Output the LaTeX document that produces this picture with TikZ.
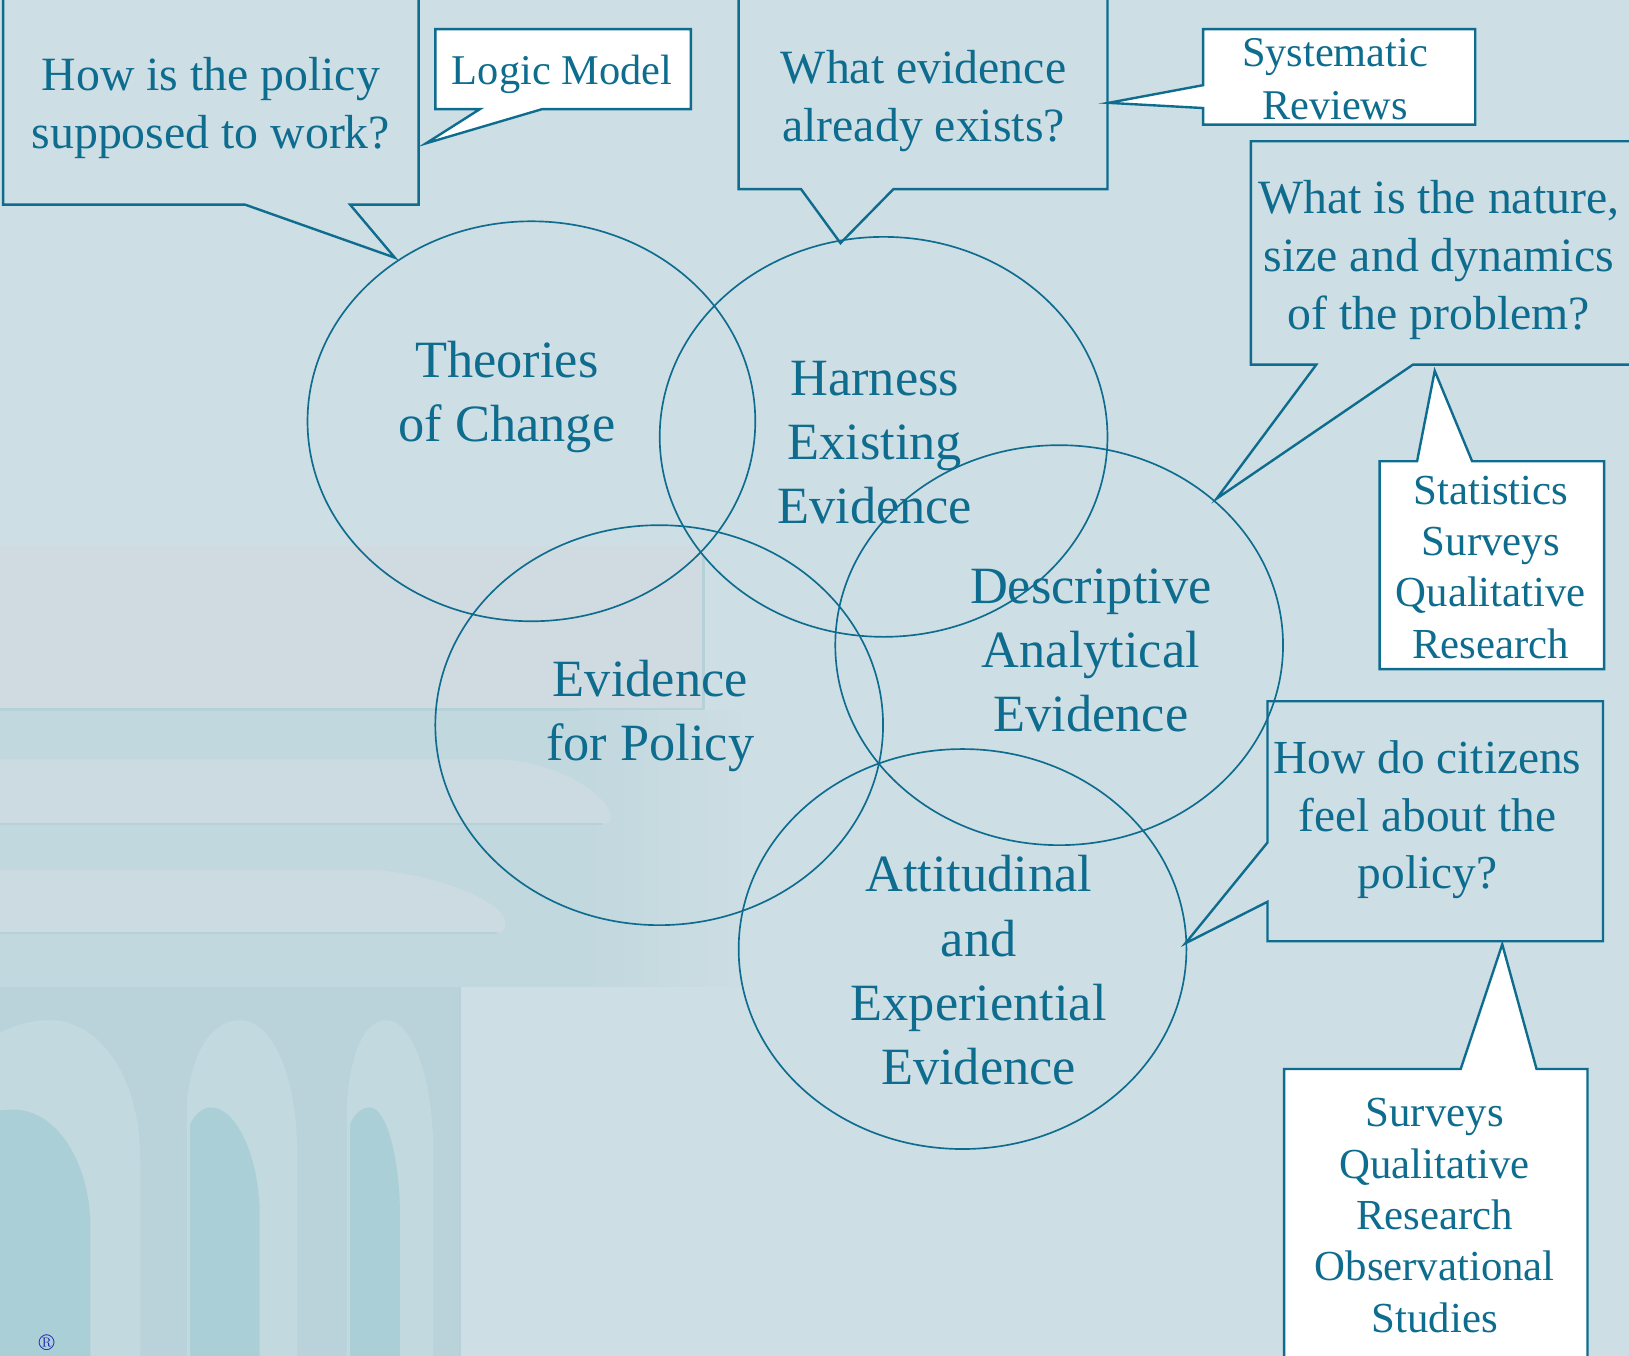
\documentclass[tikz,border=0pt]{standalone}
\usepackage{fontspec}
\newfontfamily\tms{Liberation Serif}
\usetikzlibrary{shapes.geometric}
\definecolor{ink}{RGB}{14,108,142}
\definecolor{bg}{RGB}{205,222,228}
\definecolor{bandgray}{RGB}{208,219,225}
\definecolor{bandblue}{RGB}{193,216,222}
\definecolor{tongue}{RGB}{204,219,225}
\definecolor{colbox}{RGB}{186,211,218}
\definecolor{archc}{RGB}{194,217,223}
\definecolor{flute}{RGB}{171,207,215}
\definecolor{edgec}{RGB}{182,209,216}
\definecolor{regblue}{RGB}{20,20,170}
\begin{document}
\begin{tikzpicture}[x=0.5pt,y=-0.5pt,
  callout/.style={draw=ink, line width=1.15pt, line join=miter},
  wcallout/.style={callout, fill=white},
  oval/.style={draw=ink, line width=0.8pt, ellipse, minimum width=215.5pt, minimum height=192.5pt, inner sep=0pt},
  qtext/.style={text=ink, align=center, inner sep=0pt, font=\tms\fontsize{23}{28}\selectfont},
  ltext/.style={text=ink, align=center, inner sep=0pt, font=\tms\fontsize{20.4}{25.5}\selectfont},
  etext/.style={text=ink, align=center, inner sep=0pt, font=\tms\fontsize{25.2}{31}\selectfont},
  stext/.style={text=ink, align=center, inner sep=0pt, font=\tms\fontsize{20.6}{24.7}\selectfont},
  dtext/.style={text=ink, align=center, inner sep=0pt, font=\tms\fontsize{22.8}{27.5}\selectfont}]
\useasboundingbox (0,0) rectangle (1568,1305);
\clip (0,0) rectangle (1568,1305);
\fill[bg] (0,0) rectangle (1568,1305);
% watermark building
\fill[bandgray] (0,526) rectangle (677,683);
\draw[edgec, line width=1.2pt] (0,683) -- (677,683) -- (677,535);
\fill[bandblue] (0,684) rectangle (560,950);
\shade[left color=bandblue, right color=bg] (559,684) rectangle (720,950);
\fill[tongue] (0,731) -- (486,731) .. controls (545,736) and (586,768) .. (588,785) .. controls (589,792) and (585,793) .. (580,793) -- (0,793) -- cycle;
\draw[edgec, line width=1.2pt] (0,793) -- (580,793);
\fill[tongue] (0,837) -- (353,837) .. controls (420,840) and (482,868) .. (486,885) .. controls (488,895) and (484,898) .. (478,898) -- (0,898) -- cycle;
\draw[edgec, line width=1.2pt] (0,898) -- (478,898);
\fill[colbox] (0,950) rectangle (443,1305);
\draw[edgec, line width=1.2pt] (443,950) -- (443,1305);
\fill[archc] (-38,1305) -- (-38,1060) .. controls (-38,1005) and (10,982) .. (48,982) .. controls (95,982) and (135,1035) .. (135,1117) -- (135,1305) -- cycle;
\fill[archc] (180,1305) -- (180,1060) .. controls (185,1010) and (205,982) .. (231,982) .. controls (262,982) and (286,1035) .. (286,1110) -- (286,1305) -- cycle;
\fill[archc] (334,1305) -- (334,1060) .. controls (338,1010) and (352,982) .. (372,982) .. controls (396,982) and (417,1035) .. (417,1110) -- (417,1305) -- cycle;
\fill[flute] (-62,1305) -- (-62,1100) .. controls (-40,1075) and (-10,1068) .. (13,1068) .. controls (55,1068) and (87,1120) .. (87,1181) -- (87,1305) -- cycle;
\fill[flute] (183,1305) -- (183,1082) .. controls (188,1072) and (195,1066) .. (203,1066) .. controls (228,1066) and (250,1115) .. (250,1170) -- (250,1305) -- cycle;
\fill[flute] (337,1305) -- (337,1082) .. controls (341,1072) and (348,1066) .. (356,1066) .. controls (372,1066) and (385,1115) .. (385,1170) -- (385,1305) -- cycle;
% ellipses
\node[oval] (e1) at (511.5,405.5) {};
\node[oval] (e2) at (850.5,420.5) {};
\node[oval] (e3) at (1019.5,621) {};
\node[oval] (e4) at (634.5,698) {};
\node[oval] (e5) at (926.5,913.5) {};
% callouts
\draw[callout] (3,-10) -- (3,197) -- (236,197) -- (380,248) -- (337,197) -- (403,197) -- (403,-10);
\draw[wcallout] (419,28) -- (665,28) -- (665,105) -- (522,105) -- (410,138) -- (462,105) -- (419,105) -- cycle;
\draw[callout] (711,-10) -- (711,182) -- (771,182) -- (809,234) -- (860,182) -- (1066,182) -- (1066,-10);
\draw[wcallout] (1158,28) -- (1420,28) -- (1420,120) -- (1158,120) -- (1158,104) -- (1067,99) -- (1158,82) -- cycle;
\draw[callout] (1590,136) -- (1204,136) -- (1204,351) -- (1267,351) -- (1171,480) -- (1360,351) -- (1590,351);
\draw[wcallout] (1328,644) -- (1328,444) -- (1364,444) -- (1381,357) -- (1417,444) -- (1544,444) -- (1544,644) -- cycle;
\draw[callout] (1220,675) -- (1543,675) -- (1543,906) -- (1220,906) -- (1220,868) -- (1141,908) -- (1220,811) -- cycle;
\draw[wcallout] (1236,1320) -- (1236,1029) -- (1406,1029) -- (1446,909) -- (1479,1029) -- (1528,1029) -- (1528,1320);
% texts
\node[qtext] (qa) at (203,104) {How is the policy\\supposed to work?};
\node[ltext] (lm) at (541,72) {Logic Model};
\node[qtext] (qb) at (889,97) {What evidence\\already exists?};
\node[ltext] (sr) at (1285,76) {Systematic\\Reviews};
\node[qtext] (qc) at (1385,250) {What is the nature,\\size and dynamics\\of the problem?};
\node[stext] (st) at (1435,546) {Statistics\\Surveys\\Qualitative\\Research};
\node[dtext] (qd) at (1374,789) {How do citizens\\feel about the\\policy?};
\node[stext] (sv) at (1381,1170) {Surveys\\Qualitative\\Research\\Observational\\Studies};
\node[etext] (t1) at (488,382) {Theories\\of Change};
\node[etext] (t2) at (842,426) {Harness\\Existing\\Evidence};
\node[etext] (t3) at (1050,626) {Descriptive\\Analytical\\Evidence};
\node[etext] (t4) at (626,689) {Evidence\\for Policy};
\node[etext] (t5) at (942,934) {Attitudinal\\and\\Experiential\\Evidence};
\node[text=regblue, font=\fontsize{11}{11}\selectfont, inner sep=0pt] (reg) at (45,1292) {\textregistered};
\end{tikzpicture}
\end{document}
